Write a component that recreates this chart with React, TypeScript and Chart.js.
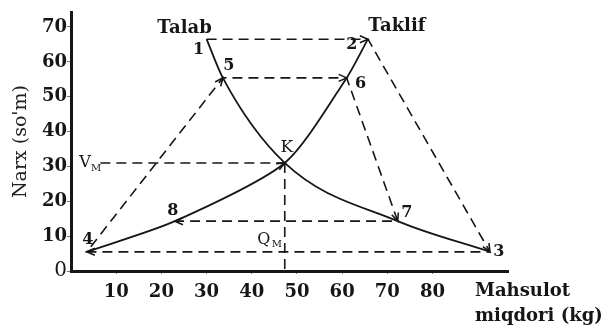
import React, { useEffect, useRef } from 'react';
import { Chart, registerables } from 'chart.js';

Chart.register(...registerables);

// ---- data ----
const pointNames = ['1', '2', '3', '4', '5', '6', '7', '8', 'K'];
const quantity = [30, 65.7, 92.7, 3.5, 33.6, 61, 72.3, 23, 47.3];
const price = [66.5, 66.5, 5.5, 5.5, 55.4, 55.4, 14.3, 14.3, 31];
const demandPath = ['1', '5', 'K', '7', '3'];
const supplyPath = ['4', '8', 'K', '6', '2'];
const cobwebPath = ['1', '2', '3', '4', '5', '6', '7', '8'];
const arrowSegments = [
  ['1', '2'], ['2', '3'], ['3', '4'], ['4', '5'],
  ['5', '6'], ['6', '7'], ['7', '8'], ['8', 'K'],
];
const yTickValues = [0, 10, 20, 30, 40, 50, 60, 70];
const xTickValues = [10, 20, 30, 40, 50, 60, 70, 80];
const vmStartQuantity = 6.5;
const demandLabel = 'Talab';
const supplyLabel = 'Taklif';
const yTitle = "Narx (so'm)";
const xTitleLines = ['Mahsulot', 'miqdori (kg)'];
const vmLabel = ['V', 'M'];
const qmLabel = ['Q', 'M'];

// ---- style ----
const SERIF = "'DejaVu Serif', 'Liberation Serif', serif";
const INK = '#161616';
const labelOffsets: Record<string, [number, number]> = {
  '1': [-8, 11], '5': [6, -12], '2': [-16, 6], '6': [14, 6], 'K': [2, -15],
  '8': [-2, -10], '7': [9, -8], '4': [1, -12], '3': [9, 0],
};

const pt = (name: string) => {
  const i = pointNames.indexOf(name);
  return { x: quantity[i], y: price[i] };
};

const annotatePlugin = {
  id: 'annotate',
  afterDatasetsDraw(chart: any) {
    const { ctx, scales, chartArea } = chart;
    const xs = scales.x;
    const ys = scales.y;
    const px = (name: string) => {
      const p = pt(name);
      return [xs.getPixelForValue(p.x), ys.getPixelForValue(p.y)];
    };
    ctx.save();
    // arrowheads
    ctx.strokeStyle = INK;
    ctx.lineWidth = 1.6;
    arrowSegments.forEach(([a, b]) => {
      const [x0, y0] = px(a);
      const [x1, y1] = px(b);
      const ang = Math.atan2(y1 - y0, x1 - x0);
      const len = 8;
      const half = 3.5;
      const bx = x1 - len * Math.cos(ang);
      const by = y1 - len * Math.sin(ang);
      ctx.beginPath();
      ctx.moveTo(bx + half * Math.sin(ang), by - half * Math.cos(ang));
      ctx.lineTo(x1, y1);
      ctx.lineTo(bx - half * Math.sin(ang), by + half * Math.cos(ang));
      ctx.stroke();
    });
    // point labels
    ctx.fillStyle = INK;
    ctx.textAlign = 'center';
    ctx.textBaseline = 'middle';
    pointNames.forEach((n) => {
      const [x, y] = px(n);
      const [dx, dy] = labelOffsets[n];
      ctx.font = n === 'K' ? `17px ${SERIF}` : `bold 16px ${SERIF}`;
      ctx.fillText(n, x + dx, y + dy);
    });
    // curve names
    ctx.font = `bold 18px ${SERIF}`;
    const [x1p, y1p] = px('1');
    ctx.fillText(demandLabel, x1p - 22, y1p - 11);
    const [x2p, y2p] = px('2');
    ctx.fillText(supplyLabel, x2p + 29, y2p - 13);
    // V_M
    const [kx, ky] = px('K');
    const x0 = xs.getPixelForValue(0);
    ctx.font = `16px ${SERIF}`;
    ctx.fillText(vmLabel[0], x0 + 14, ky);
    ctx.font = `10px ${SERIF}`;
    ctx.fillText(vmLabel[1], x0 + 25, ky + 5);
    // Q_M
    const [, y4] = px('4');
    ctx.font = `16px ${SERIF}`;
    ctx.fillText(qmLabel[0], kx - 21, y4 - 12);
    ctx.font = `10px ${SERIF}`;
    ctx.fillText(qmLabel[1], kx - 8, y4 - 7);
    // x axis title
    ctx.textAlign = 'left';
    ctx.font = `bold 18px ${SERIF}`;
    ctx.fillText(xTitleLines[0], chartArea.right - 33, chartArea.bottom + 20);
    ctx.fillText(xTitleLines[1], chartArea.right - 33, chartArea.bottom + 45);
    ctx.restore();
  },
};

export default function App() {
  const canvasRef = useRef<HTMLCanvasElement | null>(null);

  useEffect(() => {
    const canvas = canvasRef.current;
    if (!canvas) return;
    const K = pt('K');
    const chart = new Chart(canvas, {
      type: 'scatter',
      data: {
        datasets: [
          {
            label: demandLabel,
            data: demandPath.map(pt),
            showLine: true,
            borderColor: INK,
            borderWidth: 1.8,
            pointRadius: 0,
            cubicInterpolationMode: 'monotone',
          },
          {
            label: supplyLabel,
            data: supplyPath.map(pt),
            showLine: true,
            borderColor: INK,
            borderWidth: 1.8,
            pointRadius: 0,
            tension: 0.25,
          },
          {
            label: 'cobweb',
            data: cobwebPath.map(pt),
            showLine: true,
            borderColor: INK,
            borderWidth: 1.6,
            borderDash: [10, 6],
            pointRadius: 0,
            tension: 0,
          },
          {
            label: 'VM',
            data: [{ x: vmStartQuantity, y: K.y }, K],
            showLine: true,
            borderColor: INK,
            borderWidth: 1.6,
            borderDash: [10, 6],
            pointRadius: 0,
          },
          {
            label: 'QM',
            data: [K, { x: K.x, y: 0 }],
            showLine: true,
            borderColor: INK,
            borderWidth: 1.6,
            borderDash: [10, 6],
            pointRadius: 0,
          },
        ],
      },
      options: {
        animation: false,
        responsive: false,
        devicePixelRatio: 1,
        layout: { padding: { left: 0, top: 12, right: 103, bottom: 0 } },
        plugins: { legend: { display: false }, tooltip: { enabled: false } },
        scales: {
          x: {
            type: 'linear',
            min: 0,
            max: 96.7,
            afterFit: (s: any) => { s.height = 55; },
            afterBuildTicks: (s: any) => { s.ticks = xTickValues.map((v) => ({ value: v })); },
            border: { color: INK, width: 3 },
            grid: { drawOnChartArea: false, drawTicks: true, tickLength: 3, color: '#777' },
            ticks: {
              autoSkip: false,
              maxRotation: 0,
              padding: 8,
              color: INK,
              font: { family: SERIF, size: 18, weight: 'bold' },
            },
          },
          y: {
            type: 'linear',
            min: 0,
            max: 74.3,
            afterFit: (s: any) => { s.width = 71; },
            afterBuildTicks: (s: any) => { s.ticks = yTickValues.map((v) => ({ value: v })); },
            border: { color: INK, width: 3 },
            grid: { drawOnChartArea: false, drawTicks: true, tickLength: 4, color: '#777' },
            title: {
              display: true,
              text: yTitle,
              color: '#222',
              font: { family: SERIF, size: 19 },
              padding: { top: 10, bottom: 0 },
            },
            ticks: {
              padding: 0,
              color: INK,
              font: (c: any) =>
                c.tick && c.tick.value === 0
                  ? { family: SERIF, size: 20, weight: 'normal' }
                  : { family: SERIF, size: 18, weight: 'bold' },
            },
          },
        },
      },
      plugins: [annotatePlugin],
    } as any);
    return () => chart.destroy();
  }, []);

  return (
    <div style={{ position: 'absolute', left: 0, top: 0, width: 611, height: 326, background: '#fff' }}>
      <canvas ref={canvasRef} width={611} height={326} style={{ display: 'block' }} />
    </div>
  );
}
